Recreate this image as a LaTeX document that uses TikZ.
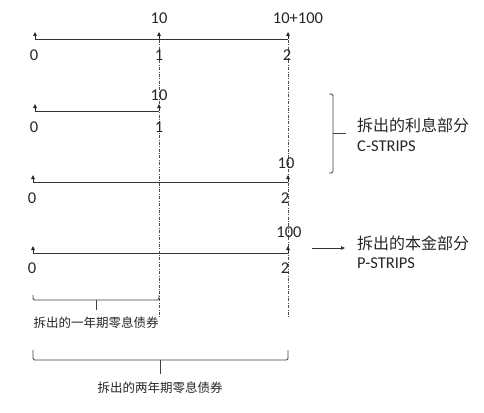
\documentclass[tikz,border=0pt]{standalone}
\usepackage{fontspec}
\setmainfont{Carlito}
\newfontfamily\cjk{Noto Sans CJK SC}
\usetikzlibrary{arrows.meta}

\begin{document}
\begin{tikzpicture}[x=1pt, y=-1pt,
    axis/.style={draw=black!80, line width=0.9pt},
    tickarr/.style={-{Triangle[width=3.6pt, length=4pt]}, draw=black!85, line width=0.8pt},
    guide/.style={draw=black!70, dash pattern=on 3pt off 1.5pt on 0.8pt off 1.5pt, line width=0.6pt},
    bracket/.style={draw=black!75, line width=0.8pt, rounded corners=1.5pt},
    num/.style={font=\fontsize{16.5}{18}\selectfont, text=black!85, inner sep=0pt},
    cnlbl/.style={font=\cjk\fontsize{16}{18}\selectfont, text=black!85, inner sep=0pt, anchor=west},
    enlbl/.style={font=\fontsize{16.5}{18}\selectfont, text=black!85, inner sep=0pt, anchor=west},
    cnsmall/.style={font=\cjk\fontsize{12.5}{14}\selectfont, text=black!85, inner sep=0pt}
]
\useasboundingbox (0,0) rectangle (484,412);

% Guides at year 1 and year 2
\draw[guide] (159,33) -- (159,318);
\draw[guide] (288,33) -- (288,317);

% Line 1: coupon bond
\coordinate (a0) at (35,39);
\coordinate (a1) at (159,39);
\coordinate (a2) at (288,39);
\draw[axis] (a0) -- (a2);
\foreach \p in {a0,a1,a2} \draw[tickarr] (\p) -- ++(0,-7);
\node[num] (a1top) at (159,18) {10};
\node[num] (a2top) at (298,18) {10+100};
\node[num] (a0lbl) at (34,55) {0};
\node[num] (a1lbl) at (159,55) {1};
\node[num] (a2lbl) at (287,55) {2};

% Line 2: coupon at year 1
\coordinate (b0) at (35,111);
\coordinate (b1) at (159,111);
\draw[axis] (b0) -- (b1);
\foreach \p in {b0,b1} \draw[tickarr] (\p) -- ++(0,-7);
\node[num] (b1top) at (159,95) {10};
\node[num] (b0lbl) at (34,127) {0};
\node[num] (b1lbl) at (159,127) {1};

% Line 3: coupon at year 2
\coordinate (c0) at (33,182);
\coordinate (c2) at (288,182);
\draw[axis] (c0) -- (c2);
\foreach \p in {c0,c2} \draw[tickarr] (\p) -- ++(0,-7);
\node[num] (c2top) at (286,163) {10};
\node[num] (c0lbl) at (32,198) {0};
\node[num] (c2lbl) at (285,198) {2};

% Line 4: principal at year 2
\coordinate (d0) at (33,253);
\coordinate (d2) at (288,253);
\draw[axis] (d0) -- (d2);
\foreach \p in {d0,d2} \draw[tickarr] (\p) -- ++(0,-7);
\node[num] (d2top) at (289,232) {100};
\node[num] (d0lbl) at (32,268) {0};
\node[num] (d2lbl) at (285,268) {2};

% Right: C-STRIPS bracket
\draw[bracket] (329,94) -- (333,94) -- (333,173) -- (329,173);
\draw[bracket] (333,133) -- (346,133);
\node[cnlbl] (ctext) at (357,125) {拆出的利息部分};
\node[enlbl] (cstrips) at (357,146) {C-STRIPS};

% Right: P-STRIPS arrow
\coordinate (parr) at (312,248);
\draw[-{Triangle[width=3.6pt, length=4pt]}, draw=black!80, line width=0.8pt] (parr) -- (345,248);
\node[cnlbl] (ptext) at (357,243) {拆出的本金部分};
\node[enlbl] (pstrips) at (357,263) {P-STRIPS};

% Bottom: zero coupon brackets
\draw[bracket] (33,295) -- (33,300) -- (159,300) -- (159,295);
\draw[bracket] (96,300) -- (96,310);
\node[cnsmall] (zero1) at (96,323) {拆出的一年期零息债券};

\draw[bracket] (33,350) -- (33,360) -- (288,360) -- (288,350);
\draw[bracket] (160,360) -- (160,374);
\node[cnsmall] (zero2) at (160,388) {拆出的两年期零息债券};

\end{tikzpicture}
\end{document}
